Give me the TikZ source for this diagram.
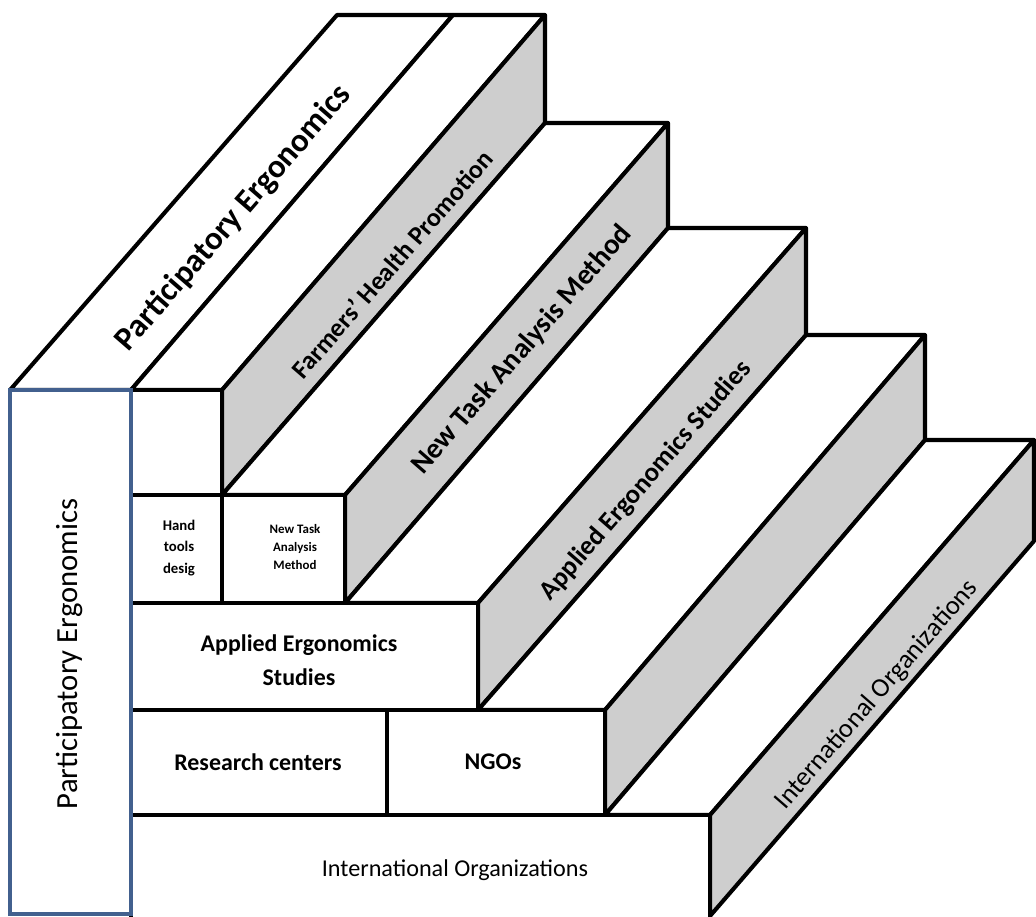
\documentclass[tikz,border=0pt]{standalone}
\usepackage{fontspec}
\setmainfont{Carlito}
\usetikzlibrary{positioning}
\definecolor{frameblue}{RGB}{66,96,142}
\definecolor{sidegray}{RGB}{206,206,206}
\tikzstyle{face} = [draw=black,line width=2.9pt,line join=round,fill=white]
\tikzstyle{side} = [face,fill=sidegray]
\tikzstyle{front} = [font=\bfseries\fontsize{17}{24}\selectfont,align=center]
\tikzstyle{slant} = [font=\bfseries\fontsize{19}{24}\selectfont,rotate=49]

\begin{document}
\begin{tikzpicture}[x=0.025cm,y=-0.025cm]
	\useasboundingbox (0,0) rectangle (1036,916);
	\clip (0,0) rectangle (1036,916);

	%Treads and sides
	\draw[face] (10,390) -- (337,15) -- (453,15) -- (131,390) -- cycle;
	\draw[face] (131,390) -- (453,15) -- (545,15) -- (222,390) -- cycle;
	\draw[side] (222,390) -- (545,15) -- (545,123) -- (222,495) -- cycle;
	\draw[face] (222,495) -- (545,123) -- (668,123) -- (345,495) -- cycle;
	\draw[side] (345,495) -- (668,123) -- (668,228) -- (345,603) -- cycle;
	\draw[face] (345,603) -- (668,228) -- (806,228) -- (478,603) -- cycle;
	\draw[side] (478,603) -- (806,228) -- (806,335) -- (478,710) -- cycle;
	\draw[face] (478,710) -- (806,335) -- (925,335) -- (605,710) -- cycle;
	\draw[side] (605,710) -- (925,335) -- (925,440) -- (605,815) -- cycle;
	\draw[face] (605,815) -- (925,440) -- (1034,440) -- (710,815) -- cycle;
	\draw[side] (710,815) -- (1034,440) -- (1034,541) -- (710,916) -- cycle;

	%Fronts
	\draw[face] (131,390) rectangle (222,495);
	\draw[face] (131,495) rectangle (222,603);
	\draw[face] (222,495) rectangle (345,603);
	\draw[face] (131,603) rectangle (478,710);
	\draw[face] (131,710) rectangle (387,815);
	\draw[face] (387,710) rectangle (605,815);
	\draw[face] (131,815) rectangle (710,940);
	\draw[line width=2.4pt,draw=frameblue,fill=white] (10,390) rectangle (131,914);

	%Labels
	\node [slant,font=\bfseries\fontsize{23.4}{28}\selectfont] (topslab) at (234,218) {Participatory Ergonomics};
	\node [slant,font=\bfseries\fontsize{18.5}{22}\selectfont] (farmers) at (392,264) {Farmers’ Health Promotion};
	\node [slant,font=\bfseries\fontsize{20.5}{24}\selectfont] (taskside) at (522,350) {New Task Analysis Method};
	\node [slant] (appliedside) at (646,481) {Applied Ergonomics Studies};
	\node [slant,font=\fontsize{19}{22}\selectfont] (intlside) at (877,695) {International Organizations};
	\node [front,font=\bfseries\fontsize{10.5}{15}\selectfont] (hand) at (179,548) {Hand\\tools\\desig};
	\node [front,font=\bfseries\fontsize{9.2}{13}\selectfont] (taskfront) at (295,547) {New Task\\Analysis\\Method};
	\node [front] (appliedfront) at (299,660) {Applied Ergonomics\\Studies};
	\node [front] (research) at (258,762) {Research centers};
	\node [front] (ngos) at (493,762) {NGOs};
	\node [front,font=\fontsize{17.2}{20}\selectfont] (intlfront) at (455,870) {International Organizations};
	\node [rotate=90,font=\fontsize{21.8}{26}\selectfont] (vertical) at (70,654) {Participatory Ergonomics};
\end{tikzpicture}
\end{document}
